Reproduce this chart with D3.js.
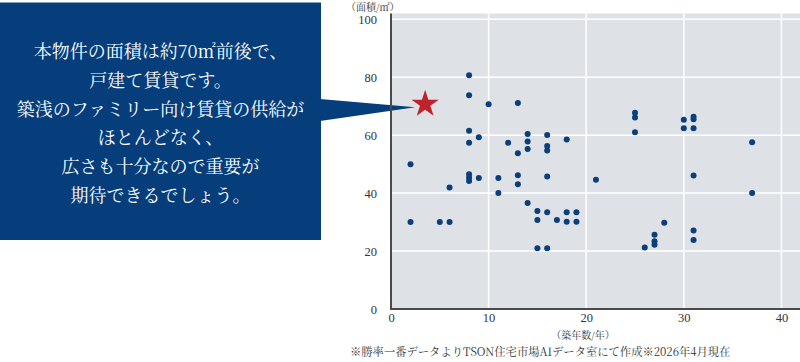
<!DOCTYPE html>
<html>
<head>
<meta charset="utf-8">
<script src="https://cdn.jsdelivr.net/npm/d3@7"></script>
<style>
  body { margin: 0; background: #fff; }
  svg { display: block; }
  .serif { font-family: "Liberation Serif", "DejaVu Serif", serif; }
  .jp { font-family: "Noto Serif CJK JP", "Noto Sans CJK JP", sans-serif; }
</style>
</head>
<body>
<div id="chart"></div>
<script>
// building age (years) and floor area (m2) for each listing
var ages = [2, 2, 5, 6, 6,
  8, 8, 8, 8, 8, 8, 8, 9, 9, 10, 11, 11, 12,
  13, 13, 13, 13, 14, 14, 14, 14, 15, 15, 15,
  16, 16, 16, 16, 16, 16, 17, 18, 18, 18, 19, 19, 21,
  25, 25, 25, 26, 27, 27, 27, 28, 30, 30,
  31, 31, 31, 31, 31, 31, 37, 37];
var areas = [50.0, 30.0, 30.0, 30.0, 41.9,
  80.7, 73.8, 61.5, 57.4, 46.5, 45.3, 44.2, 59.3, 45.2, 70.7, 45.2, 40.0, 57.4,
  71.1, 53.8, 46.2, 43.1, 60.4, 57.8, 55.2, 36.6, 33.8, 30.7, 21.0,
  60.1, 56.3, 54.7, 45.7, 33.4, 21.0, 30.7, 58.5, 33.4, 30.1, 33.4, 30.1, 44.6,
  67.7, 66.1, 61.0, 21.2, 25.6, 23.4, 22.2, 29.8, 65.3, 62.4,
  66.4, 65.5, 62.4, 46.1, 27.1, 23.8, 57.6, 40.0];
// this property
var starAge = 3.5, starArea = 70.7;

var xTicks = [0, 10, 20, 30, 40];
var yTicks = [0, 20, 40, 60, 80, 100];
var xTitle = '（築年数/年）';
var yTitle = '（面積/㎡）';
var note = '※勝率一番データよりTSON住宅市場AIデータ室にて作成※2026年4月現在';
var boxLines = [
  '本物件の面積は約70㎡前後で、',
  '戸建て賃貸です。',
  '築浅のファミリー向け賃貸の供給が',
  'ほとんどなく、',
  '広さも十分なので重要が',
  '期待できるでしょう。'
];

var width = 800, height = 362;
var plotLeft = 391, plotRight = 800, plotTop = 13.5, plotBottom = 309;

var x = d3.scaleLinear().domain([0, (plotRight - plotLeft) / 9.76]).range([plotLeft, plotRight]);
var y = d3.scaleLinear().domain([0, (plotBottom - plotTop) / 2.897]).range([plotBottom, plotTop]);

var svg = d3.select('#chart').append('svg')
  .attr('width', width)
  .attr('height', height);

// plot background
svg.append('rect')
  .attr('x', plotLeft).attr('y', plotTop)
  .attr('width', plotRight - plotLeft).attr('height', plotBottom - plotTop)
  .attr('fill', '#dee2e7');

// grid
svg.selectAll('.hgrid')
  .data(yTicks.filter(function (d) { return d > 0; })).enter()
  .append('line')
  .attr('x1', plotLeft).attr('x2', plotRight)
  .attr('y1', function (d) { return y(d); })
  .attr('y2', function (d) { return y(d); })
  .attr('stroke', '#fff').attr('stroke-width', 1.5);

svg.selectAll('.vgrid')
  .data(xTicks.filter(function (d) { return d > 0; })).enter()
  .append('line')
  .attr('x1', function (d) { return x(d); })
  .attr('x2', function (d) { return x(d); })
  .attr('y1', plotTop).attr('y2', plotBottom)
  .attr('stroke', '#fff').attr('stroke-width', 1.5);

// callout box + pointer
svg.append('rect')
  .attr('x', 0).attr('y', 2.5)
  .attr('width', 321).attr('height', 237.5)
  .attr('fill', '#053e7b');

svg.append('path')
  .attr('d', 'M320,99L' + (x(starAge) - 10) + ',' + y(starArea - 1.1) + 'L320,121Z')
  .attr('fill', '#053e7b');

svg.append('g')
  .attr('class', 'jp')
  .selectAll('text')
  .data(boxLines).enter()
  .append('text')
  .attr('x', 160.5)
  .attr('y', function (d, i) { return 52 + i * 28.7; })
  .attr('dy', '0.35em')
  .attr('text-anchor', 'middle')
  .attr('fill', '#fff')
  .attr('font-size', 18)
  .text(function (d) { return d; });

// axes
var xAxis = svg.append('g')
  .attr('transform', 'translate(0,' + plotBottom + ')')
  .call(d3.axisBottom(x).tickValues(xTicks).tickSize(0).tickPadding(4));
var yAxis = svg.append('g')
  .attr('transform', 'translate(' + plotLeft + ',0)')
  .call(d3.axisLeft(y).tickValues(yTicks).tickSize(0).tickPadding(14));

[xAxis, yAxis].forEach(function (g) {
  g.select('.domain').remove();
  g.selectAll('text')
    .attr('class', 'serif')
    .attr('font-size', 12.5)
    .attr('fill', '#333');
});

svg.append('line')
  .attr('x1', plotLeft).attr('x2', plotLeft)
  .attr('y1', plotTop).attr('y2', plotBottom + 1)
  .attr('stroke', '#4a4a4a').attr('stroke-width', 2);
svg.append('line')
  .attr('x1', plotLeft - 1).attr('x2', plotRight)
  .attr('y1', plotBottom).attr('y2', plotBottom)
  .attr('stroke', '#4a4a4a').attr('stroke-width', 2);

// points
svg.append('g')
  .selectAll('circle')
  .data(ages).enter()
  .append('circle')
  .attr('cx', function (d) { return x(d); })
  .attr('cy', function (d, i) { return y(areas[i]); })
  .attr('r', 3)
  .attr('fill', '#0b3f7c');

// star for this property
svg.append('path')
  .attr('d', d3.symbol().type(d3.symbolStar).size(230)())
  .attr('transform', 'translate(' + x(starAge) + ',' + y(starArea) + ')')
  .attr('fill', '#c1232b');

// titles
svg.append('text')
  .attr('class', 'jp')
  .attr('x', 346).attr('y', 7)
  .attr('dy', '0.35em')
  .attr('font-size', 10)
  .attr('fill', '#333')
  .text(yTitle);

svg.append('text')
  .attr('class', 'jp')
  .attr('x', 583).attr('y', 335)
  .attr('dy', '0.35em')
  .attr('text-anchor', 'middle')
  .attr('font-size', 10)
  .attr('fill', '#333')
  .text(xTitle);

svg.append('text')
  .attr('class', 'jp')
  .attr('x', 350).attr('y', 352)
  .attr('dy', '0.35em')
  .attr('font-size', 11.3)
  .attr('fill', '#333')
  .text(note);
</script>
</body>
</html>
